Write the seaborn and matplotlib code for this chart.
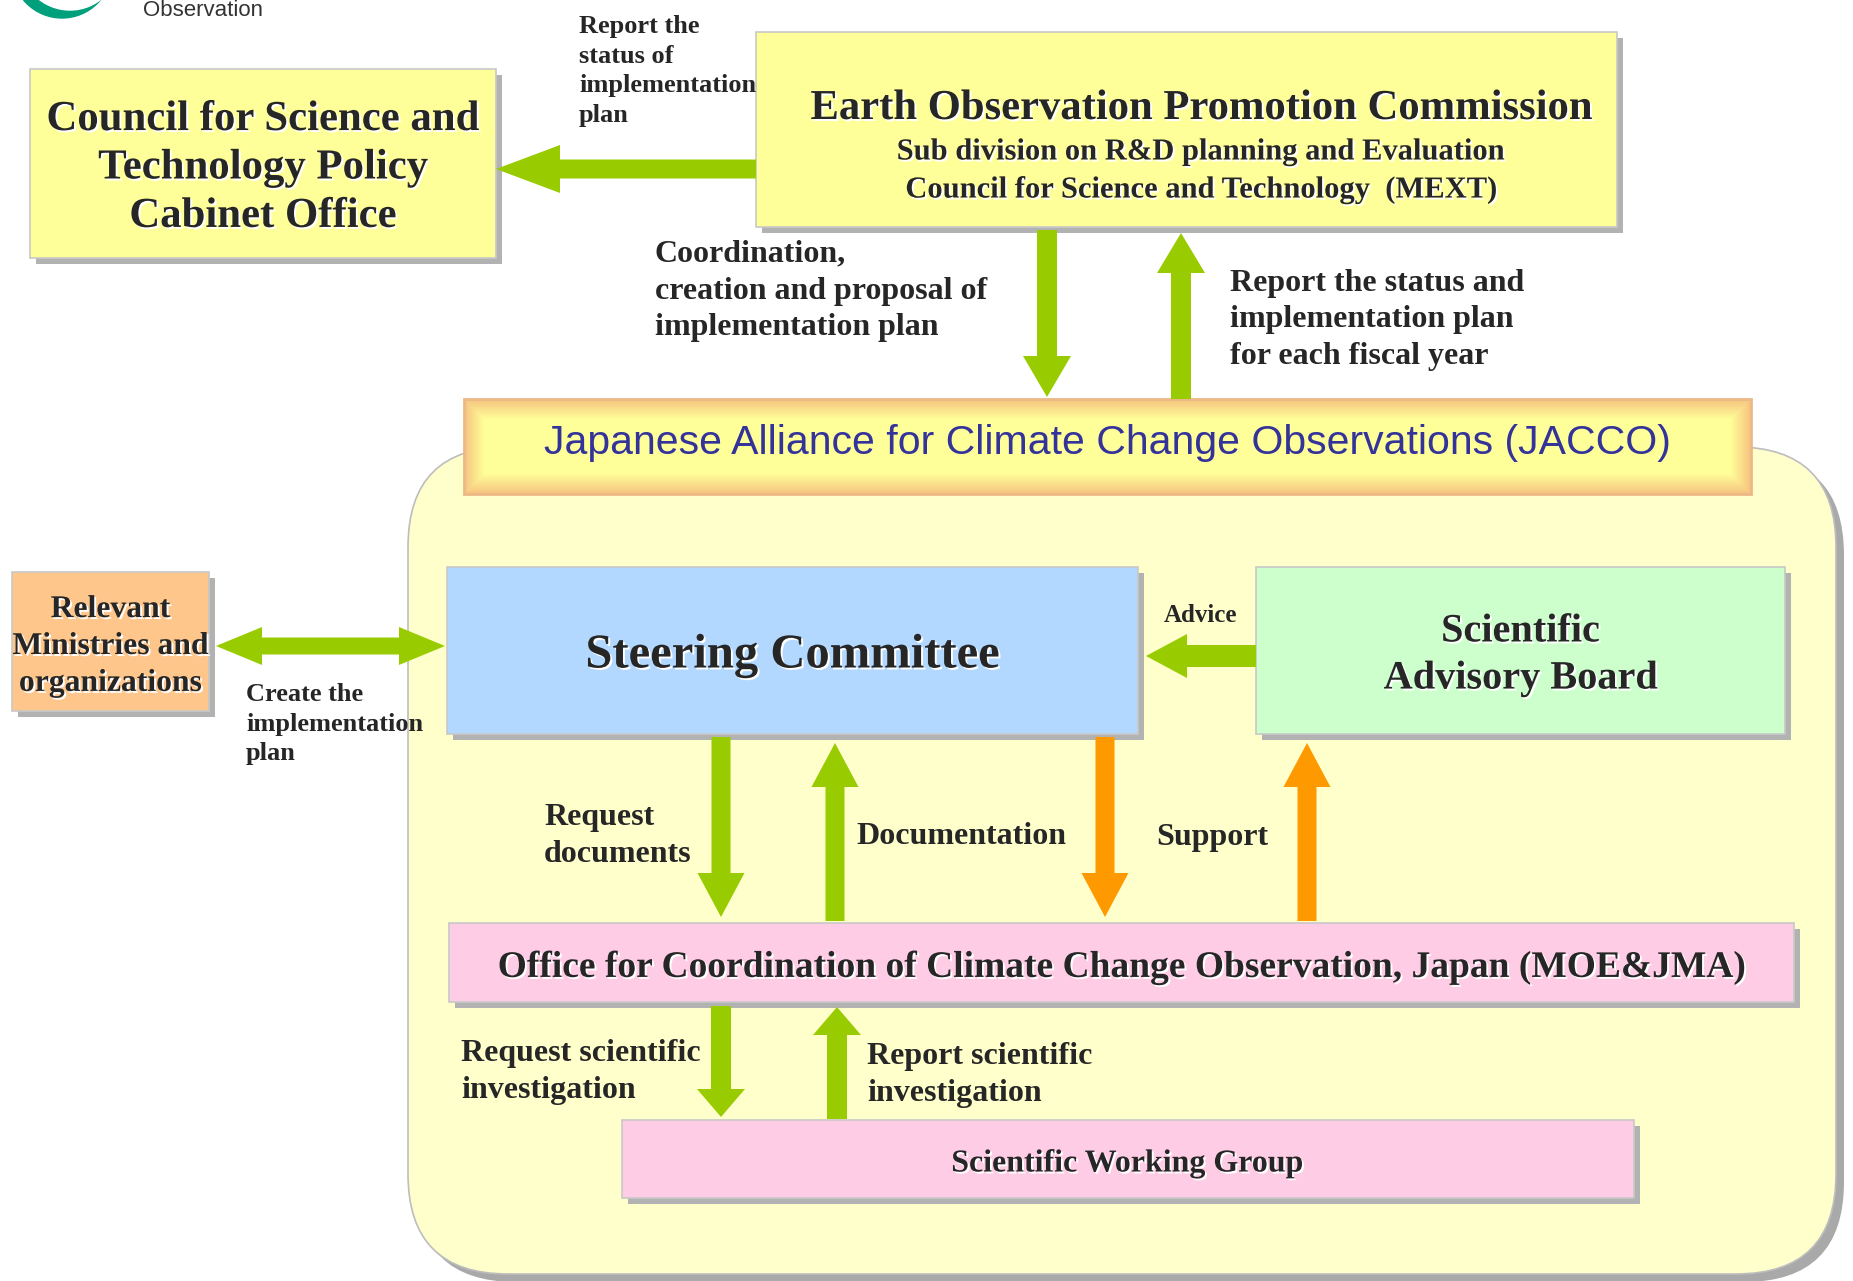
import numpy as np
import matplotlib.pyplot as plt
import matplotlib.patheffects as pe
from matplotlib.patches import FancyBboxPatch, Rectangle, FancyArrow, Circle
import seaborn as sns

# ---- text content of the diagram ----
node_labels = [
    "Council for Science and\nTechnology Policy\nCabinet Office",
    "Relevant\nMinistries and\norganizations",
    "Steering Committee",
    "Scientific\nAdvisory Board",
    "Office for Coordination of Climate Change Observation, Japan (MOE&JMA)",
    "Scientific Working Group",
]
eopc_title = "Earth Observation Promotion Commission"
eopc_sub = ["Sub division on R&D planning and Evaluation",
            "Council for Science and Technology  (MEXT)"]
jacco_title = "Japanese Alliance for Climate Change Observations (JACCO)"
flow_labels = [
    "Report the\nstatus of\nimplementation\nplan",
    "Coordination,\ncreation and proposal of\nimplementation plan",
    "Report the status and\nimplementation plan\nfor each fiscal year",
    "Create the\nimplementation\nplan",
    "Advice",
    "Request\ndocuments",
    "Documentation",
    "Support",
    "Request scientific\ninvestigation",
    "Report scientific\ninvestigation",
]
logo_text = "Observation"

# ---- layout (pixel space of the page) ----
W, H = 1853, 1281
node_boxes = [(30, 69, 496, 258), (12, 572, 209, 711), (447, 567, 1138, 734),
              (1256, 567, 1785, 734), (449, 923, 1794, 1002), (622, 1120, 1634, 1198)]
node_fills = ["#FFFF99", "#FFC68C", "#B3D8FF", "#CCFFCC", "#FFCCE6", "#FFCCE6"]
node_sizes = [30.8, 22.8, 35, 29, 27, 23]
eopc_box = (756, 32, 1617, 227)
jacco_box = (464, 399, 1751, 494)
panel_box = (408, 447, 1836, 1274)

label_pos = [(579, 71, "left", 19), (655, 291, "left", 23), (1230, 320, "left", 23),
             (246, 724, "left", 19), (1200, 615, "center", 18), (544, 836, "left", 23),
             (856, 836, "left", 23), (1156, 838, "left", 23), (461, 1072, "left", 23),
             (867, 1075, "left", 23)]

GREEN, ORANGE = "#99CC00", "#FF9900"
# x0, y0, x1 (tip), y1 (tip), colour, shaft width, head width, head length
arrows = [
    (756, 169, 496, 169, GREEN, 19, 48, 64),
    (1047, 230, 1047, 397, GREEN, 20, 48, 41),
    (1181, 399, 1181, 233, GREEN, 20, 48, 40),
    (1256, 656, 1146, 656, GREEN, 22, 44, 41),
    (721, 737, 721, 917, GREEN, 19, 47, 44),
    (835, 921, 835, 743, GREEN, 19, 47, 44),
    (1105, 737, 1105, 917, ORANGE, 19, 47, 44),
    (1307, 921, 1307, 743, ORANGE, 19, 47, 44),
    (721, 1006, 721, 1117, GREEN, 20, 48, 28),
    (837, 1119, 837, 1007, GREEN, 20, 48, 28),
    (330, 646, 216, 646, GREEN, 17, 38, 46),
    (330, 646, 445, 646, GREEN, 17, 38, 46),
]

sns.set_theme(style="white")
plt.rcParams["font.family"] = ["Liberation Serif", "DejaVu Serif"]

fig = plt.figure(figsize=(18.53, 12.81), dpi=100)
ax = fig.add_axes([0, 0, 1, 1])
ax.set_xlim(0, W)
ax.set_ylim(H, 0)
ax.axis("off")

SHADOW = "#B2B2B2"
txt_fx = [pe.SimplePatchShadow(offset=(1.4, -1.4), shadow_rgbFace="white", alpha=1.0),
          pe.Normal()]


def box(b, fill, off=6, z=2):
    x0, y0, x1, y1 = b
    ax.add_patch(Rectangle((x0 + off, y0 + off), x1 - x0, y1 - y0,
                           facecolor=SHADOW, edgecolor="none", zorder=z))
    ax.add_patch(Rectangle((x0, y0), x1 - x0, y1 - y0, facecolor=fill,
                           edgecolor="#C8C8C8", lw=1.2, zorder=z + 0.1))


# logo fragment in the corner
ax.add_patch(Circle((62, -32), 50, color="#00A07C", zorder=1))
ax.add_patch(Circle((70, -40), 50, color="white", zorder=1.1))
ax.text(143, 16, logo_text, fontsize=16, color="#333333", va="baseline",
        family=["Liberation Sans"], zorder=2)

# big rounded panel
px0, py0, px1, py1 = panel_box
ax.add_patch(FancyBboxPatch((px0 + 8, py0 + 8), px1 - px0, py1 - py0,
                            boxstyle="round,pad=0,rounding_size=100",
                            facecolor="#A9A9A9", edgecolor="none", zorder=1))
ax.add_patch(FancyBboxPatch((px0, py0), px1 - px0, py1 - py0,
                            boxstyle="round,pad=0,rounding_size=100",
                            facecolor="#FFFFCC", edgecolor="#BDBDBD", lw=1.2, zorder=1.2))

# JACCO banner with soft orange-to-yellow gradient
jx0, jy0, jx1, jy1 = jacco_box
gw, gh = jx1 - jx0, jy1 - jy0
yy, xx = np.mgrid[0:gh, 0:gw]
d = np.minimum(np.minimum(xx, gw - 1 - xx), np.minimum(yy, gh - 1 - yy))
t = np.clip(d / 20.0, 0, 1)[..., None]
edge = np.array([246, 196, 128]) / 255
centre = np.array([255, 255, 153]) / 255
img = edge * (1 - t) + centre * t
ax.imshow(img, extent=(jx0, jx1, jy1, jy0), zorder=3, interpolation="bilinear")
ax.add_patch(Rectangle((jx0, jy0), gw, gh, facecolor="none", edgecolor="#EDB885",
                       lw=2, zorder=3.1))
ax.set_xlim(0, W)
ax.set_ylim(H, 0)
ax.set_aspect("auto")
ax.text((jx0 + jx1) / 2, (jy0 + jy1) / 2 - 4, jacco_title, fontsize=29.5, color="#333399",
        ha="center", va="center", family=["Liberation Sans"], zorder=4)

# EOPC box
box(eopc_box, "#FFFF99")
ax.text(1201, 109, eopc_title, fontsize=30.7, fontweight="bold", ha="center", va="center",
        zorder=5, path_effects=txt_fx)
for yy_, s in zip([152, 190], eopc_sub):
    ax.text(1201, yy_, s, fontsize=22, fontweight="bold", ha="center", va="center",
            zorder=5, path_effects=txt_fx)

# other boxes
for b, fill, lab, fs in zip(node_boxes, node_fills, node_labels, node_sizes):
    box(b, fill)
    ax.text((b[0] + b[2]) / 2, (b[1] + b[3]) / 2 + 5, lab, fontsize=fs, fontweight="bold",
            ha="center", va="center", linespacing=1.36, zorder=5, path_effects=txt_fx)

# arrows
for x0, y0, x1, y1, c, w, hw, hl in arrows:
    ax.add_patch(FancyArrow(x0, y0, x1 - x0, y1 - y0, width=w, head_width=hw,
                            head_length=hl, length_includes_head=True,
                            facecolor=c, edgecolor="none", zorder=6))

# flow labels
for (x, y, ha, fs), lab in zip(label_pos, flow_labels):
    ax.text(x, y, lab, fontsize=fs, fontweight="bold", ha=ha, va="center",
            linespacing=1.36, zorder=7)

fig.savefig("out.png", dpi=100)
